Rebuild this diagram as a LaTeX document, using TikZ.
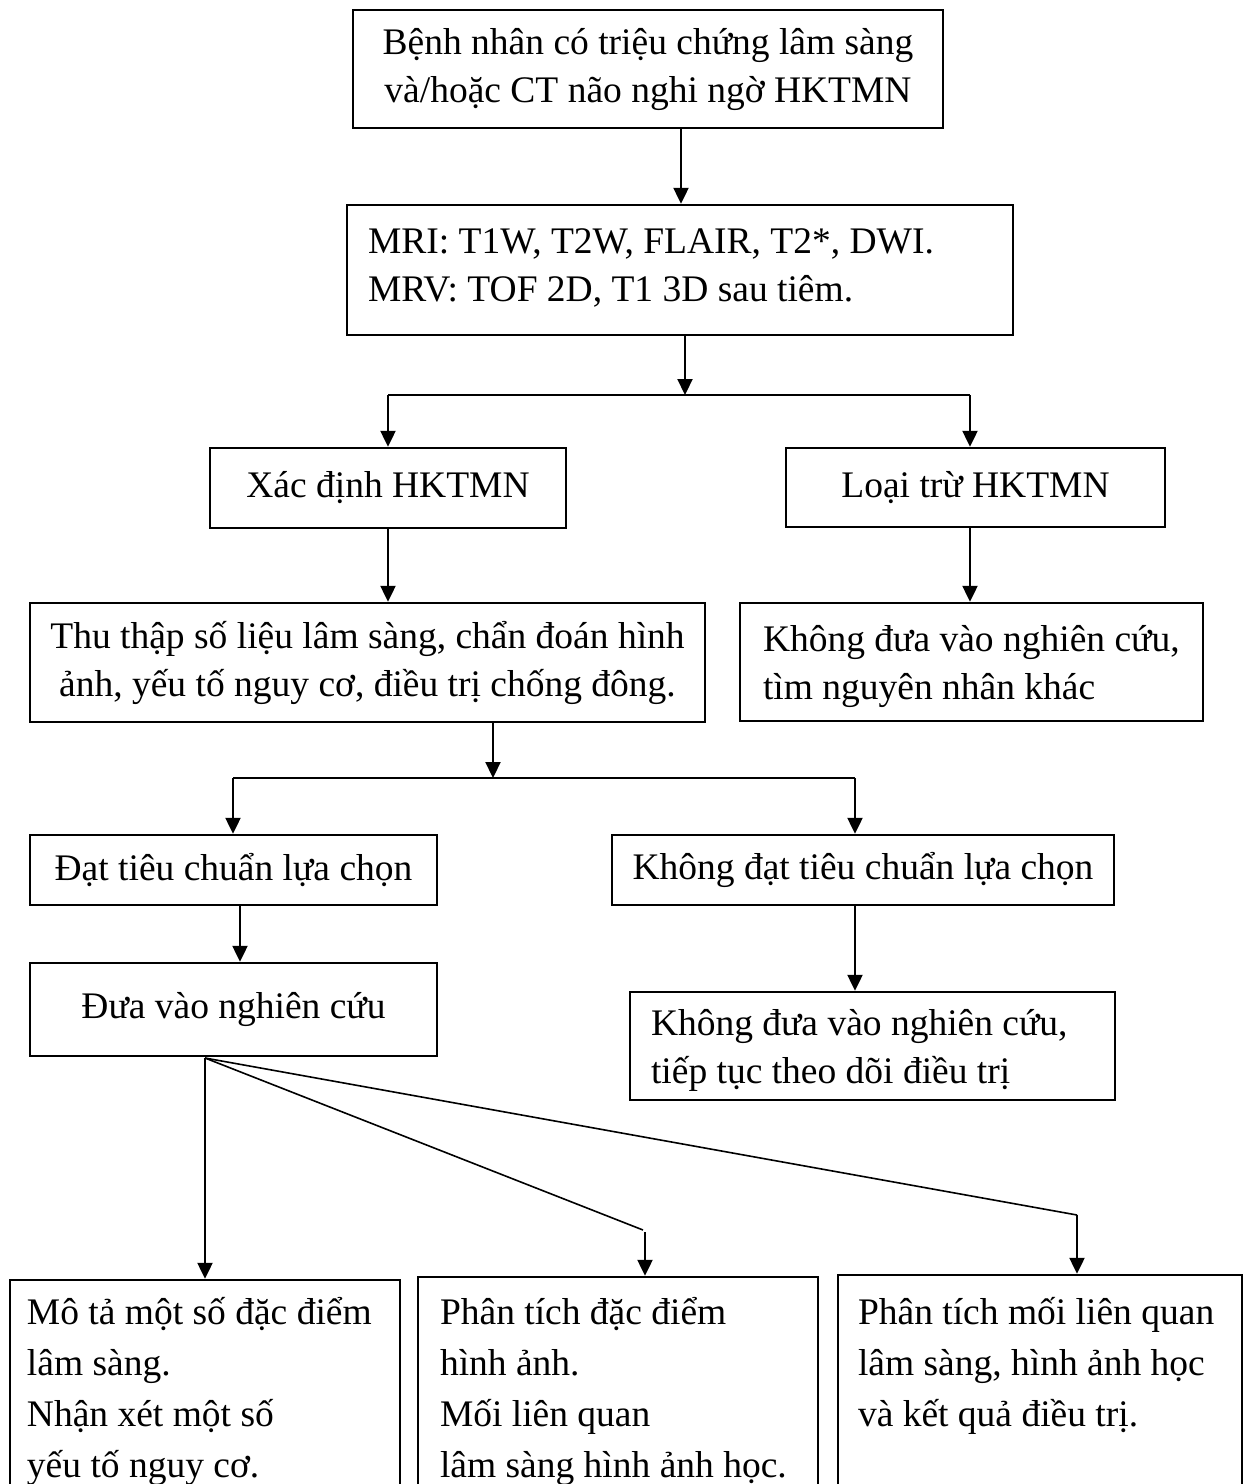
\documentclass[tikz,border=0pt]{standalone}
\usepackage{fontspec}
\setmainfont{Liberation Serif}
\usetikzlibrary{arrows.meta}
\newcommand\lbox[5]{\parbox[c][#2][t]{#1}{\raggedright\leftskip=#3\relax\vspace*{#4}\strut #5}}
\begin{document}
\begin{tikzpicture}[x=1pt,y=-1pt,
  box/.style={draw, line width=2.4pt, inner sep=0pt, font=\fontsize{37.5}{48}\selectfont},
  bbox/.style={box, font=\fontsize{37.5}{51}\selectfont},
  cbox/.style={box, align=center},
  arr/.style={line width=2.2pt, -{Triangle[length=16pt,width=15pt]}},
  ln/.style={line width=1.6pt}]
\useasboundingbox[fill=white] (0,0) rectangle (1245,1484);

\node[cbox, minimum width=590pt, minimum height=118pt] (b1) at (648,69)
  {Bệnh nhân có triệu chứng lâm sàng\\và/hoặc CT não nghi ngờ HKTMN};
\node[box] (b2) at (680,270)
  {\lbox{666pt}{130pt}{21pt}{15pt}{MRI: T1W, T2W, FLAIR, T2*, DWI.\\MRV: TOF 2D, T1 3D sau tiêm.}};
\node[cbox, minimum width=356pt, minimum height=80pt] (b3) at (388,488) {Xác định HKTMN};
\node[cbox, minimum width=379pt, minimum height=79pt] (b4) at (975.5,487.5) {Loại trừ HKTMN};
\node[cbox, minimum width=675pt, minimum height=119pt] (b5) at (367.5,662.5)
  {Thu thập số liệu lâm sàng, chẩn đoán hình\\ảnh, yếu tố nguy cơ, điều trị chống đông.};
\node[box] (b6) at (971.5,662)
  {\lbox{463pt}{118pt}{23pt}{15pt}{Không đưa vào nghiên cứu,\\tìm nguyên nhân khác}};
\node[cbox, minimum width=407pt, minimum height=70pt] (b7) at (233.5,870) {Đạt tiêu chuẩn lựa chọn};
\node[cbox, minimum width=502pt, minimum height=70pt] (b8) at (863,870) {Không đạt tiêu chuẩn lựa chọn};
\node[cbox, minimum width=407pt, minimum height=93pt] (b9) at (233.5,1009.5) {Đưa vào nghiên cứu};
\node[box] (b10) at (872.5,1046)
  {\lbox{485pt}{108pt}{21pt}{10pt}{Không đưa vào nghiên cứu,\\tiếp tục theo dõi điều trị}};
\node[bbox] (b11) at (205,1395)
  {\lbox{390pt}{230pt}{17pt}{9pt}{Mô tả một số đặc điểm\\lâm sàng.\\Nhận xét một số\\yếu tố nguy cơ.}};
\node[bbox] (b12) at (618,1393.5)
  {\lbox{400pt}{233pt}{22pt}{12pt}{Phân tích đặc điểm\\hình ảnh.\\Mối liên quan\\lâm sàng hình ảnh học.}};
\node[bbox] (b13) at (1040,1392.5)
  {\lbox{404pt}{235pt}{20pt}{14pt}{Phân tích mối liên quan\\lâm sàng, hình ảnh học\\và kết quả điều trị.}};

\coordinate (x1) at (681,0);
\coordinate (x2) at (685,0);
\coordinate (f1) at (685,395);
\coordinate (f1l) at (388,395);
\coordinate (f1r) at (970,395);
\coordinate (f2) at (493,778);
\coordinate (f2l) at (233,778);
\coordinate (f2r) at (855,778);
\coordinate (x4) at (240,0);
\coordinate (ap) at (205,1058);
\coordinate (k2) at (643,1230);
\coordinate (k2b) at (645,1232);
\coordinate (k3) at (1077,1215);

\draw[arr] (b1.south -| x1) -- (b2.north -| x1);
\draw[arr] (b2.south -| x2) -- (f1);
\draw[ln] (f1l) -- (f1r);
\draw[arr] (f1l) -- (b3.north -| f1l);
\draw[arr] (f1r) -- (b4.north -| f1r);
\draw[arr] (b3.south -| f1l) -- (b5.north -| f1l);
\draw[arr] (b4.south -| f1r) -- (b6.north -| f1r);
\draw[arr] (b5.south -| f2) -- (f2);
\draw[ln] (f2l) -- (f2r);
\draw[arr] (f2l) -- (b7.north -| f2l);
\draw[arr] (f2r) -- (b8.north -| f2r);
\draw[arr] (b7.south -| x4) -- (b9.north -| x4);
\draw[arr] (b8.south -| f2r) -- (b10.north -| f2r);
\draw[arr] (ap) -- (b11.north -| ap);
\draw[ln] (ap) -- (k2);
\draw[arr] (k2b) -- (b12.north -| k2b);
\draw[ln] (ap) -- (k3);
\draw[arr] (k3) -- (b13.north -| k3);
\end{tikzpicture}
\end{document}
